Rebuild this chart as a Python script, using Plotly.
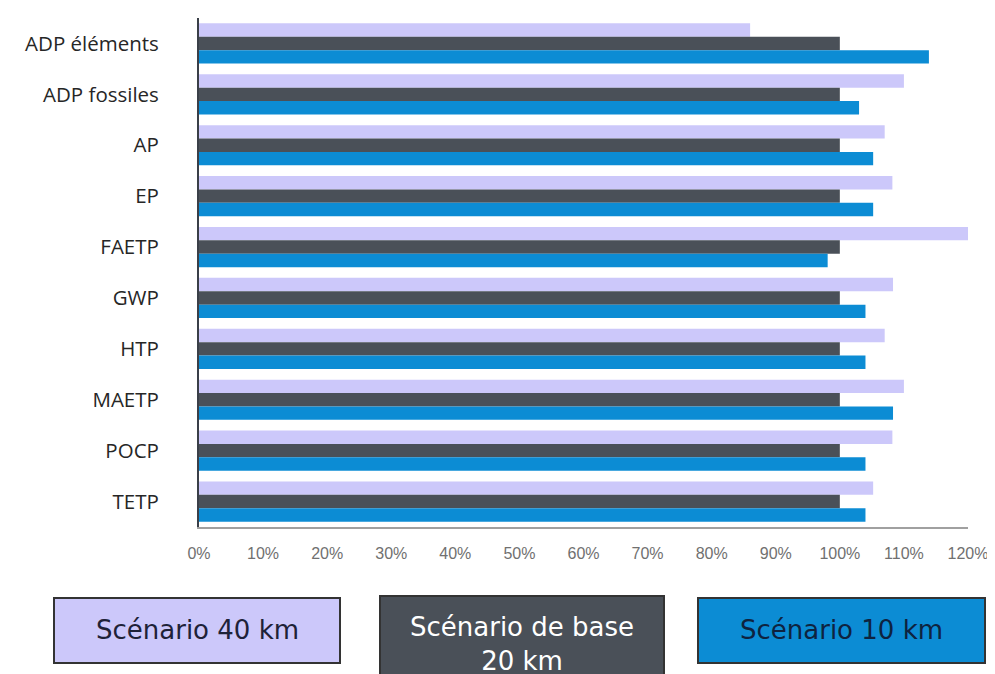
import plotly.graph_objects as go

categories = ["ADP éléments", "ADP fossiles", "AP", "EP", "FAETP", "GWP", "HTP", "MAETP", "POCP", "TETP"]
scen_40 = [86.0, 110.0, 107.0, 108.2, 120.3, 108.3, 107.0, 110.0, 108.2, 105.2]
scen_base = [100, 100, 100, 100, 100, 100, 100, 100, 100, 100]
scen_10 = [113.9, 103.0, 105.2, 105.2, 98.1, 104.0, 104.0, 108.3, 104.0, 104.0]
tick_vals = [0, 10, 20, 30, 40, 50, 60, 70, 80, 90, 100, 110, 120]
tick_text = ["0%", "10%", "20%", "30%", "40%", "50%", "60%", "70%", "80%", "90%", "100%", "110%", "120%"]
legend_labels = ["Scénario 40 km", "Scénario de base<br>20 km", "Scénario 10 km"]

c_40 = "#CCC8FA"
c_base = "#4A5058"
c_10 = "#0C8CD4"

# page offset (browser body margin)
OFF = 8
PL, PR, PT, PB = 199, 968, 18, 527  # plot area in screen pixels

fig = go.Figure()
fig.add_trace(go.Bar(y=categories, x=scen_40, orientation="h", marker=dict(color=c_40, line=dict(width=0)), name="40"))
fig.add_trace(go.Bar(y=categories, x=scen_base, orientation="h", marker=dict(color=c_base, line=dict(width=0)), name="base"))
fig.add_trace(go.Bar(y=categories, x=scen_10, orientation="h", marker=dict(color=c_10, line=dict(width=0)), name="10"))

fig.update_layout(
    width=995, height=674,
    margin=dict(l=PL - OFF, r=995 - (PR - OFF), t=PT - OFF, b=674 - (PB - OFF)),
    paper_bgcolor="white", plot_bgcolor="white",
    barmode="group", bargap=0.21, bargroupgap=0,
    showlegend=False,
    xaxis=dict(range=[0, 120], tickvals=tick_vals, ticktext=tick_text,
               showgrid=False, zeroline=False, showline=True, linecolor="#A0A0A0", linewidth=2,
               ticks="", ticklabelstandoff=11,
               tickfont=dict(family="Liberation Sans Narrow, Liberation Sans, Arial", size=16, color="#707070")),
    yaxis=dict(autorange="reversed", showgrid=False, zeroline=False, showline=True,
               linecolor="#3A3F48", linewidth=2, ticks="", ticklabelstandoff=34,
               tickfont=dict(family="Open Sans", size=20.5, color="#262626")),
)

W = PR - PL
H = PB - PT
boxes = [
    (54, 340, 598, 663, c_40, "#1E2238", 630),
    (380, 664, 596, 700, c_base, "#FFFFFF", 644),
    (698, 985, 598, 663, c_10, "#0E2340", 630),
]
for (x0, x1, y0, y1, fc, tc, cy), lab in zip(boxes, legend_labels):
    fig.add_shape(type="rect", xref="paper", yref="paper",
                  x0=(x0 - PL) / W, x1=(x1 - PL) / W,
                  y0=(PB - y1) / H, y1=(PB - y0) / H,
                  fillcolor=fc, line=dict(color="#333333", width=2), layer="above")
    fig.add_annotation(xref="paper", yref="paper",
                       x=((x0 + x1) / 2 - PL) / W, y=(PB - cy) / H,
                       text=lab, showarrow=False, xanchor="center", yanchor="middle",
                       font=dict(family="DejaVu Sans", size=26, color=tc))

fig.write_html("out.html")
